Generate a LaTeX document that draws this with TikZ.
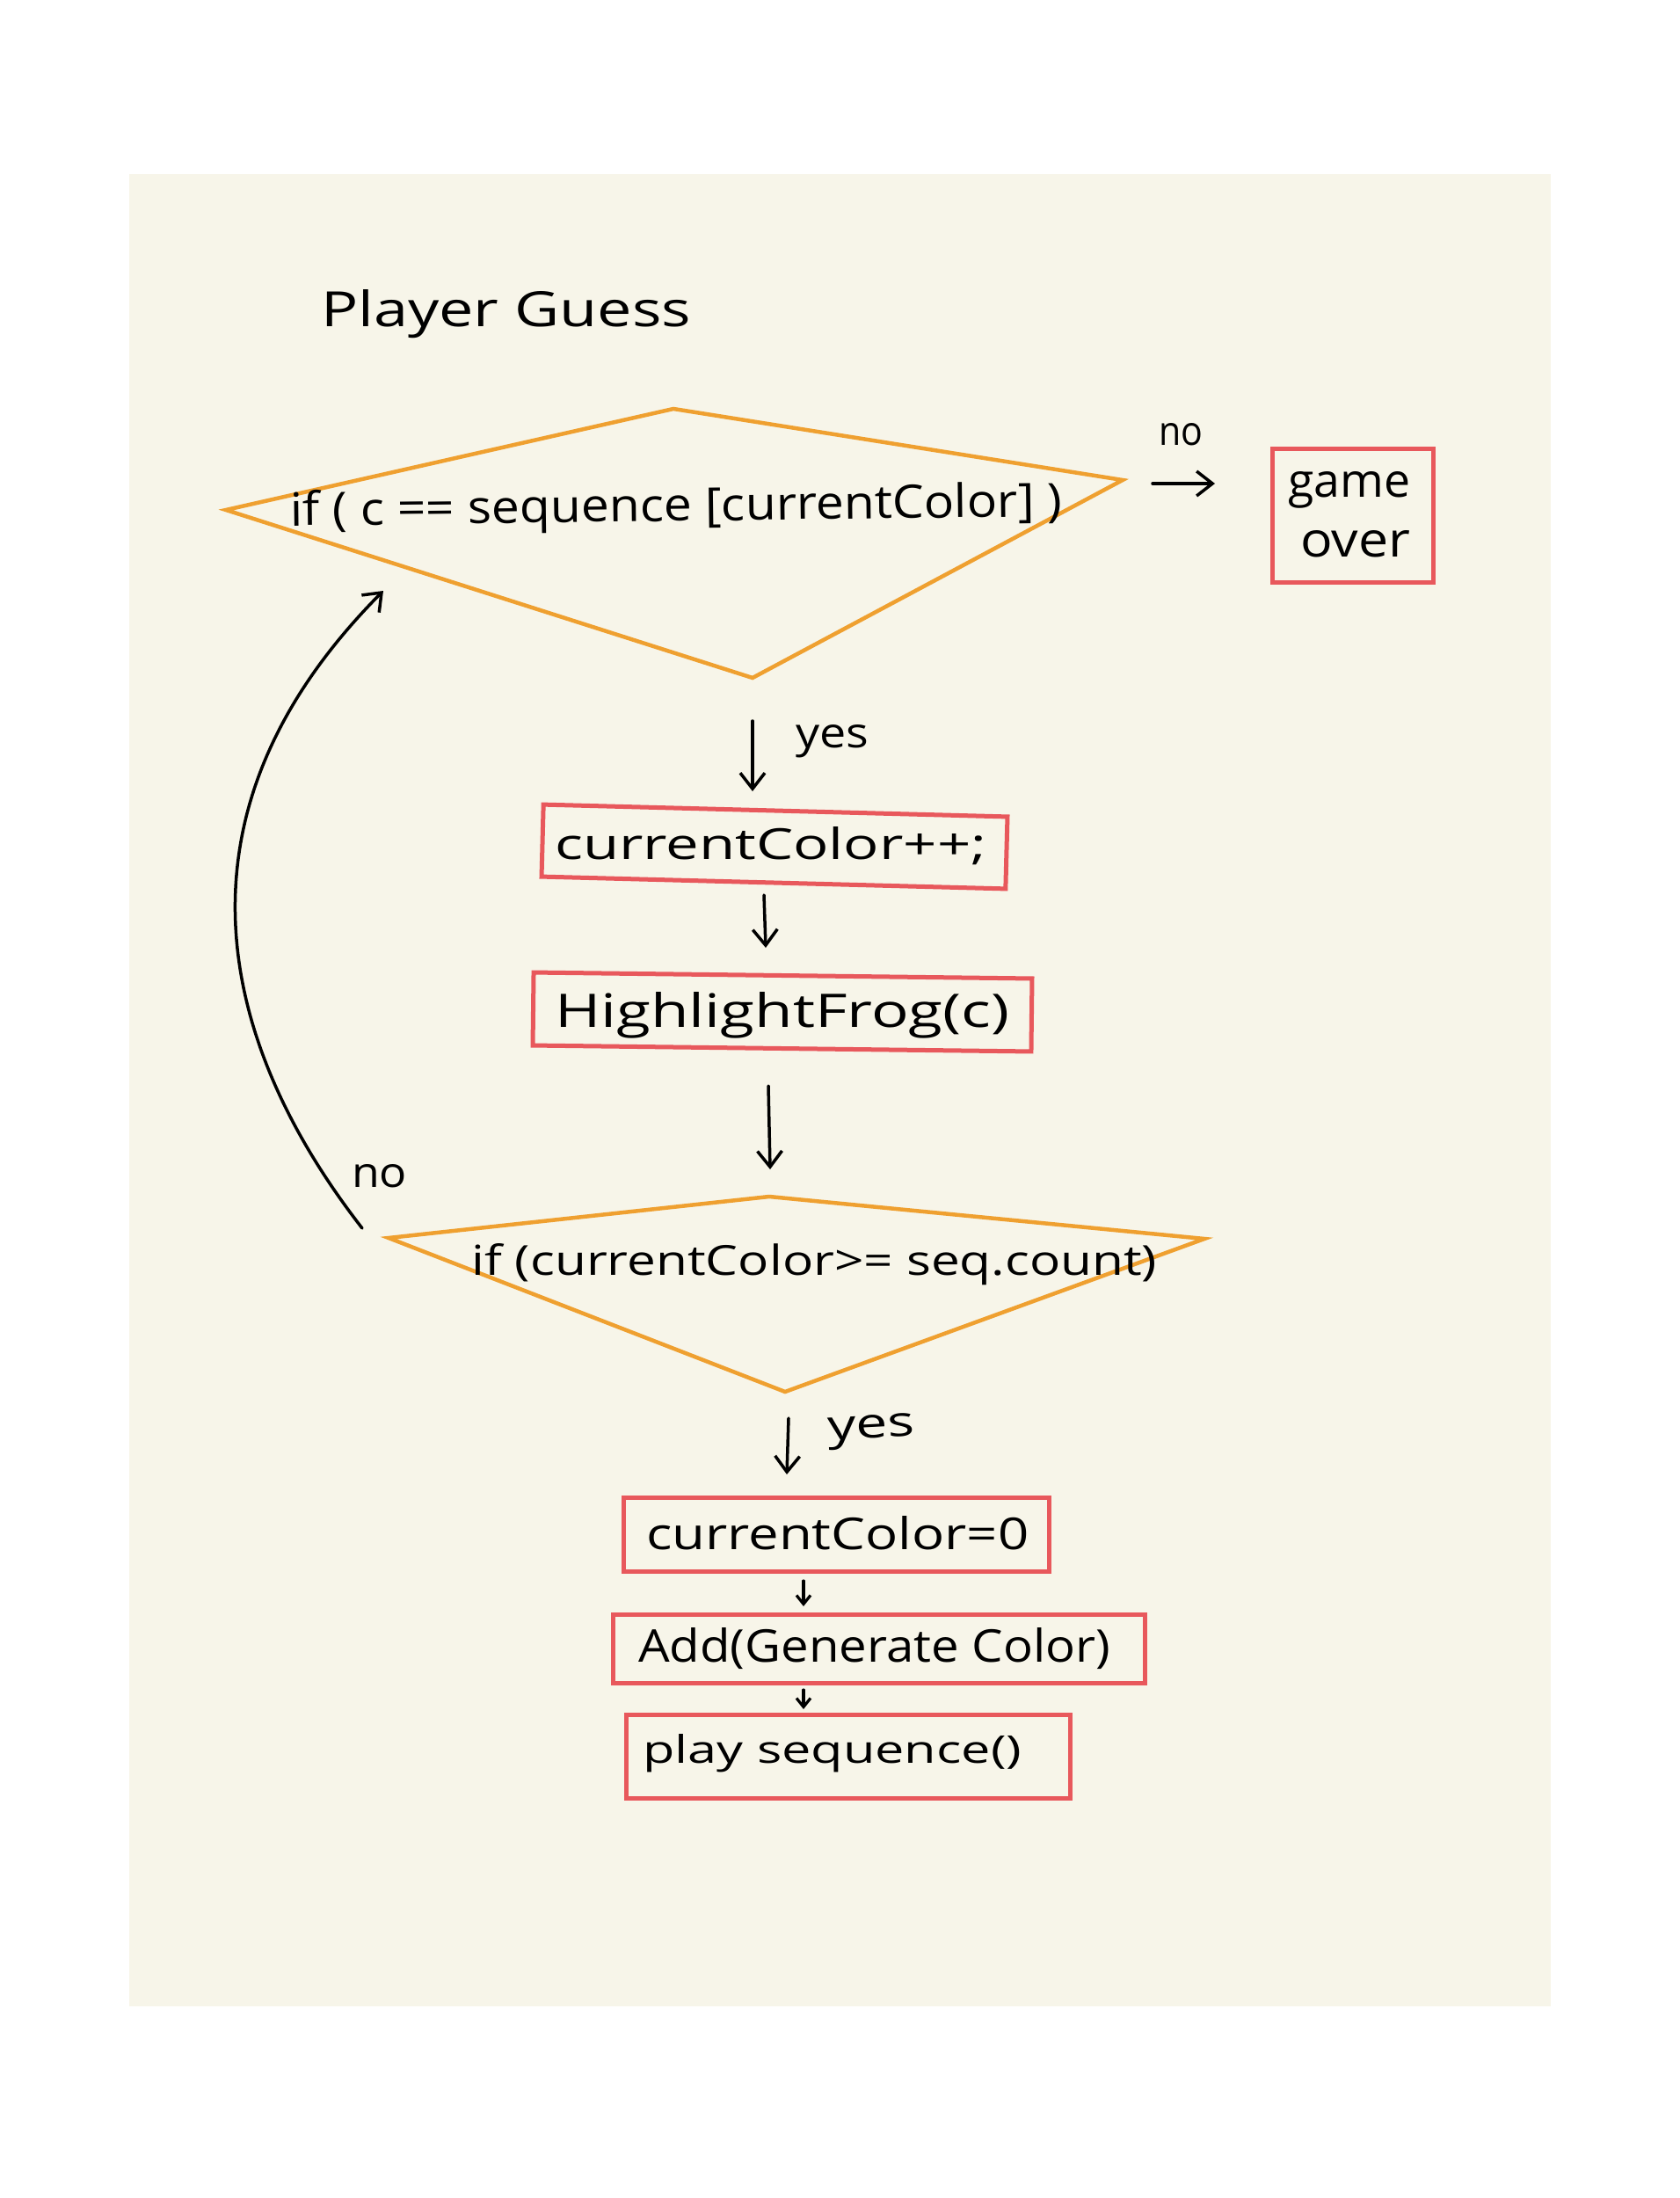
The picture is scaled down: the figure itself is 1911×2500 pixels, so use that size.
\documentclass[tikz,border=0pt]{standalone}
\usepackage{fontspec}
\setmainfont{Open Sans}
\usetikzlibrary{arrows.meta}
\definecolor{paper}{RGB}{247,245,233}
\definecolor{dorange}{RGB}{239,160,48}
\definecolor{bred}{RGB}{232,88,92}
\newcommand\fitt[3]{\resizebox{#1pt}{#2pt}{#3}}
\begin{document}
\begin{tikzpicture}[x=1pt,y=-1pt,
  lbl/.style={inner sep=0pt, anchor=base west, text=black},
  dec/.style={draw=dorange, line width=4.5pt, line join=miter},
  proc/.style={draw=bred, line width=5pt, inner sep=0pt},
  arr/.style={line width=3.5pt, line cap=round, -{Straight Barb[length=18pt,width=28pt]}},
  sarr/.style={line width=3.2pt, line cap=round, -{Straight Barb[length=10pt,width=16pt]}}]
\fill[white] (0,0) rectangle (1911,2500);
\useasboundingbox (0,0) rectangle (1911,2500);
\fill[paper] (147,198) rectangle (1764,2282);

% title
\node[lbl] (title) at (365,371) {\fitt{421}{42}{Player Guess}};

% decision 1
\coordinate (d1w) at (257,580);
\coordinate (d1n) at (766,465);
\coordinate (d1e) at (1277,546);
\coordinate (d1s) at (856,771);
\draw[dec] (d1w) -- (d1n) -- (d1e) -- (d1s) -- cycle;
\node[lbl, rotate=0.7] (d1t) at (330,598) {\fitt{878}{40}{if ( c == sequence [currentColor] )}};

% no -> game over
\node[lbl] (no1) at (1318,506) {\fitt{50}{25}{no}};
\coordinate (n1a) at (1311,550);
\coordinate (n1b) at (1382,550);
\draw[arr] (n1a) -- (n1b);
\node[proc, minimum width=183pt, minimum height=152pt] (go) at (1539,586) {};
\node[lbl] (game) at (1465,565) {\fitt{139}{29}{game}};
\node[lbl] (over) at (1479,633) {\fitt{125}{30}{over}};

% yes 1
\node[lbl] (yes1) at (905,850) {\fitt{83}{26}{yes}};
\coordinate (y1a) at (856,820);
\coordinate (y1b) at (856,900);
\draw[arr] (y1a) -- (y1b);

% currentColor++
\node[proc, minimum width=528pt, minimum height=82pt, rotate=-1.5] (b1) at (881,963) {};
\node[lbl] (b1t) at (631,977) {\fitt{491}{37}{currentColor++;}};
\coordinate (a1a) at (869,1018);
\coordinate (a1b) at (871,1078);
\draw[arr] (a1a) -- (a1b);

% HighlightFrog
\node[proc, minimum width=567pt, minimum height=83pt, rotate=-0.7] (b2) at (890,1151) {};
\node[lbl] (b2t) at (631,1168) {\fitt{517}{40}{HighlightFrog(c)}};
\coordinate (a2a) at (874,1235);
\coordinate (a2b) at (876,1330);
\draw[arr] (a2a) -- (a2b);

% decision 2
\coordinate (d2w) at (442,1408);
\coordinate (d2n) at (875,1361);
\coordinate (d2e) at (1370,1409);
\coordinate (d2s) at (893,1583);
\draw[dec] (d2w) -- (d2n) -- (d2e) -- (d2s) -- cycle;
\node[lbl] (d2t) at (536,1450) {\fitt{780}{36}{if (currentColor>= seq.count)}};

% no loop back
\node[lbl] (no2) at (400,1350) {\fitt{63}{26}{no}};
\coordinate (c0) at (412,1397);
\coordinate (c1) at (436,672);
\draw[arr] (c0) .. controls (290,1240) and (150,960) .. (c1);

% yes 2
\node[lbl, rotate=3] (yes2) at (942,1638) {\fitt{99}{26}{yes}};
\coordinate (y2a) at (897,1613);
\coordinate (y2b) at (895,1677);
\draw[arr] (y2a) -- (y2b);

% currentColor=0
\node[proc, minimum width=484pt, minimum height=84pt] (b3) at (951,1745) {};
\node[lbl] (b3t) at (735,1762) {\fitt{435}{38}{currentColor=0}};
\coordinate (a3a) at (914,1798);
\coordinate (a3b) at (914,1827);
\draw[sarr] (a3a) -- (a3b);

% Add(Generate Color)
\node[proc, minimum width=605pt, minimum height=78pt] (b4) at (999.5,1875) {};
\node[lbl] (b4t) at (726,1890) {\fitt{537}{39}{Add(Generate Color)}};
\coordinate (a4a) at (914,1922);
\coordinate (a4b) at (914,1944);
\draw[sarr] (a4a) -- (a4b);

% play sequence()
\node[proc, minimum width=505pt, minimum height=95pt] (b5) at (964.5,1997.5) {};
\node[lbl] (b5t) at (731,2005) {\fitt{431}{33}{play sequence()}};
\end{tikzpicture}
\end{document}
